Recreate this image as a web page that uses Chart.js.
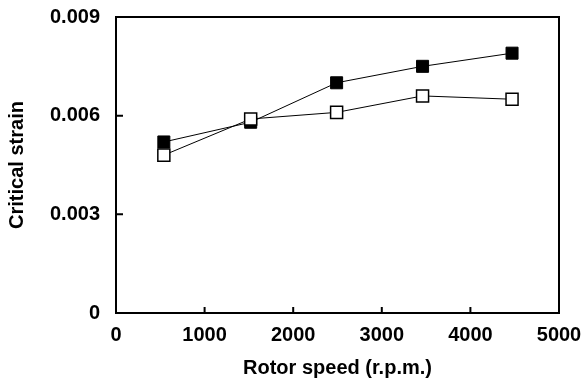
<!DOCTYPE html>
<html lang="en">
<head>
    <meta charset="UTF-8">
    <title>Critical strain vs rotor speed</title>
    <script src="https://cdn.jsdelivr.net/npm/chart.js"></script>
    <style>
        html, body { margin: 0; padding: 0; background: #fff; }
        #wrap { width: 588px; height: 381px; }
    </style>
</head>
<body>
    <div id="wrap"><canvas id="strainChart" width="588" height="381"></canvas></div>

    <script>
        // valores
        const rotorSpeed = [540, 1520, 2490, 3460, 4470];
        const strainFilled = [0.0052, 0.0058, 0.0070, 0.0075, 0.0079];
        const strainOpen = [0.0048, 0.0059, 0.0061, 0.0066, 0.0065];
        const yTicks = [0, 0.003, 0.006, 0.009];
        const xTicks = [0, 1000, 2000, 3000, 4000, 5000];

        const fontFamily = '"Liberation Sans", Arial, sans-serif';

        function toPoints(xs, ys) {
            return xs.map((x, i) => ({ x: x, y: ys[i] }));
        }

        // marco y marcas hacia dentro
        const frame = {
            id: 'frame',
            afterDraw(chart) {
                const ctx = chart.ctx;
                const a = chart.chartArea;
                const xs = chart.scales.x;
                const ys = chart.scales.y;
                ctx.save();
                ctx.strokeStyle = '#000';
                ctx.lineWidth = 2;
                ctx.strokeRect(a.left, a.top, a.right - a.left, a.bottom - a.top);
                ctx.beginPath();
                xs.ticks.forEach(t => {
                    const px = xs.getPixelForValue(t.value);
                    if (px <= a.left + 1 || px >= a.right - 1) return;
                    ctx.moveTo(px, a.bottom);
                    ctx.lineTo(px, a.bottom - 6);
                });
                ys.ticks.forEach(t => {
                    const py = ys.getPixelForValue(t.value);
                    if (py >= a.bottom - 1 || py <= a.top + 1) return;
                    ctx.moveTo(a.left, py);
                    ctx.lineTo(a.left + 7, py);
                });
                ctx.stroke();
                ctx.restore();
            }
        };

        new Chart(document.getElementById('strainChart'), {
            type: 'scatter',
            data: {
                datasets: [{
                    label: 'open',
                    data: toPoints(rotorSpeed, strainOpen),
                    showLine: true,
                    borderColor: '#000',
                    borderWidth: 1,
                    pointStyle: 'rect',
                    pointRadius: 8.5,
                    pointBackgroundColor: '#fff',
                    pointBorderColor: '#000',
                    pointBorderWidth: 1.5,
                    order: 0
                }, {
                    label: 'filled',
                    data: toPoints(rotorSpeed, strainFilled),
                    showLine: true,
                    borderColor: '#000',
                    borderWidth: 1,
                    pointStyle: 'rect',
                    pointRadius: 8.5,
                    pointBackgroundColor: '#000',
                    pointBorderColor: '#000',
                    pointBorderWidth: 1,
                    order: 1
                }]
            },
            options: {
                responsive: false,
                animation: false,
                layout: { padding: { top: 17, right: 29, left: 0, bottom: 0 } },
                plugins: {
                    legend: { display: false },
                    tooltip: { enabled: false }
                },
                scales: {
                    x: {
                        type: 'linear',
                        min: 0,
                        max: 5000,
                        afterBuildTicks: s => { s.ticks = xTicks.map(v => ({ value: v })); },
                        afterFit: s => { s.height = 68; s.paddingLeft = 0; s.paddingRight = 0; },
                        grid: { display: false, drawTicks: false },
                        border: { display: false },
                        ticks: {
                            padding: 10,
                            color: '#000',
                            maxRotation: 0,
                            font: { family: fontFamily, size: 20, weight: 'bold' },
                            callback: v => String(v)
                        },
                        title: {
                            display: true,
                            text: 'Rotor speed (r.p.m.)',
                            color: '#000',
                            padding: { top: 0, bottom: 1 },
                            font: { family: fontFamily, size: 20, weight: 'bold' }
                        }
                    },
                    y: {
                        min: 0,
                        max: 0.009,
                        afterBuildTicks: s => { s.ticks = yTicks.map(v => ({ value: v })); },
                        afterFit: s => { s.width = 116; s.paddingTop = 0; s.paddingBottom = 0; },
                        grid: { display: false, drawTicks: false },
                        border: { display: false },
                        ticks: {
                            padding: 16,
                            color: '#000',
                            font: { family: fontFamily, size: 20, weight: 'bold' },
                            callback: v => (v === 0 ? '0' : v.toFixed(3))
                        },
                        title: {
                            display: true,
                            text: 'Critical strain',
                            color: '#000',
                            padding: { top: 5, bottom: 0 },
                            font: { family: fontFamily, size: 20, weight: 'bold' }
                        }
                    }
                }
            },
            plugins: [frame]
        });
    </script>
</body>
</html>
